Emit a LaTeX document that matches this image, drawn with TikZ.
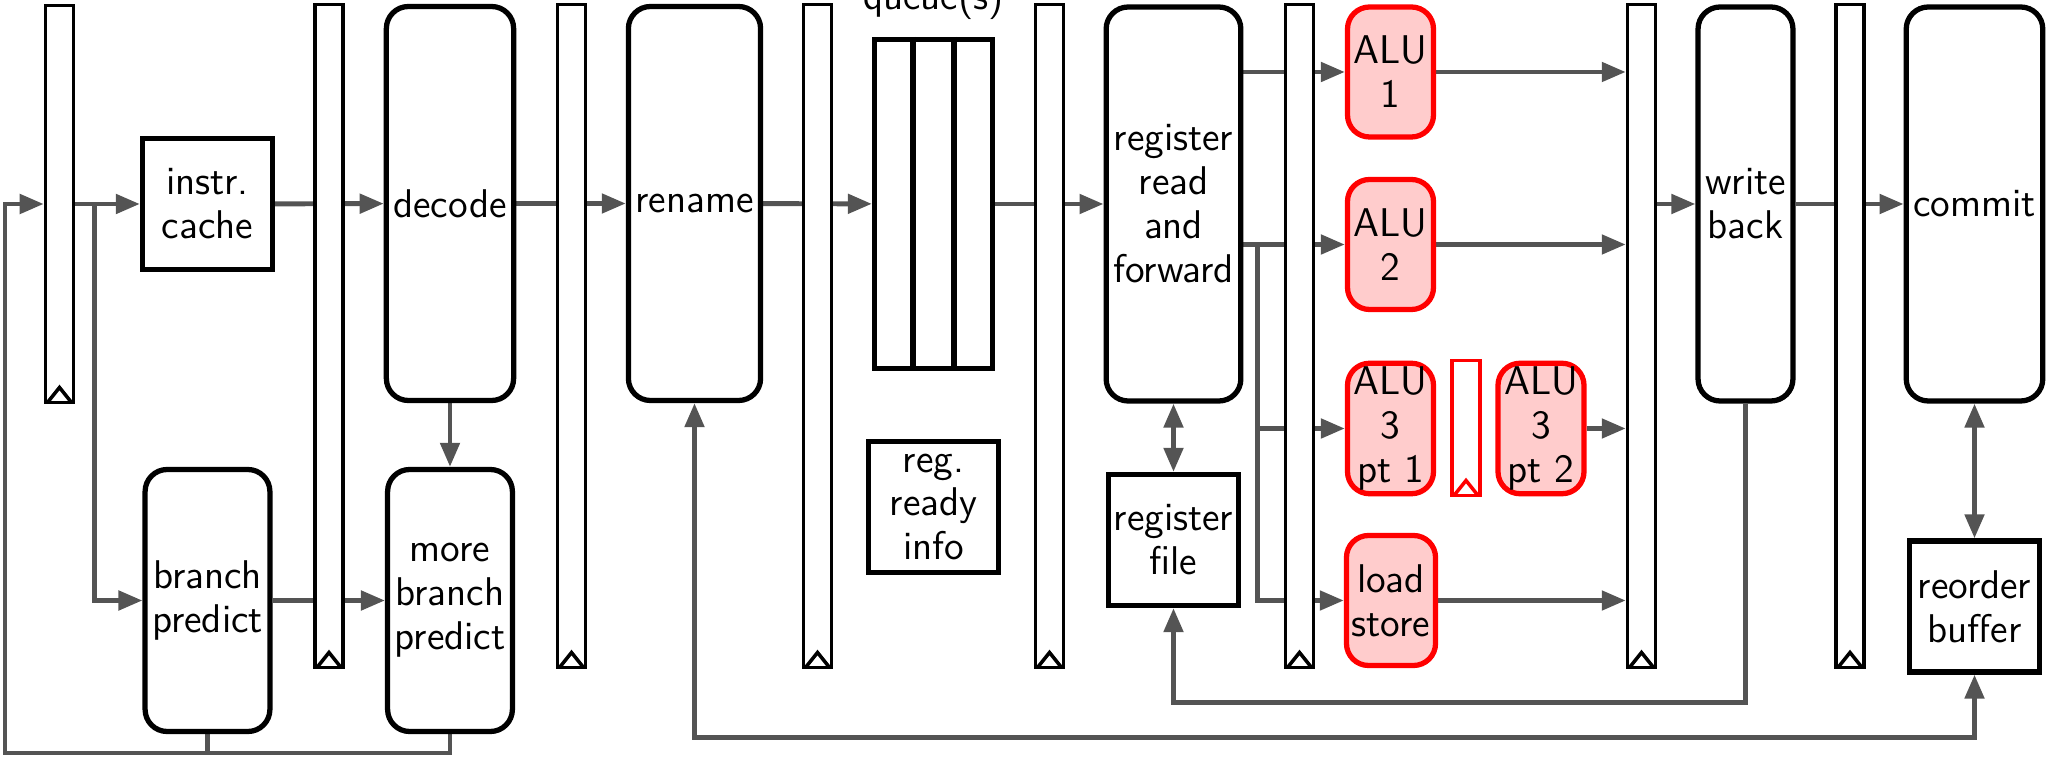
\documentclass[tikz,border=0pt]{standalone}
\usetikzlibrary{arrows.meta,positioning,calc,backgrounds}

\definecolor{wiregray}{gray}{0.33}
\definecolor{alufill}{HTML}{FFCCCC}

\begin{document}
\begin{tikzpicture}[
    font=\sffamily\fontsize{11.4}{12.5}\selectfont,
    stage/.style={rectangle, draw, line width=1.5pt, rounded corners=2.2mm, align=center, inner xsep=2pt, inner ysep=1pt, minimum width=0.9cm, minimum height=3.94cm},
    unit/.style={rectangle, draw, line width=1.5pt, align=center, inner sep=1pt, minimum width=1.3cm, minimum height=1.31cm},
    alu/.style={rectangle, draw=red, fill=alufill, line width=1.5pt, rounded corners=2.2mm, align=center, inner xsep=1.5pt, inner ysep=1pt, minimum width=0.86cm, minimum height=1.3cm},
    latch/.style={rectangle, draw=#1, fill=white, line width=1pt, minimum width=0.28cm, inner sep=0pt,
        path picture={\draw[#1, line width=1pt] ([xshift=-1.2mm]path picture bounding box.south) -- ([yshift=1.5mm]path picture bounding box.south) -- ([xshift=1.2mm]path picture bounding box.south);}},
    latch/.default=black,
    wire/.style={draw=wiregray, line width=1.4pt},
    arrow/.style={wire, -{Triangle[length=2.4mm,width=1.9mm]}},
    biarrow/.style={wire, {Triangle[length=2.4mm,width=1.9mm]}-{Triangle[length=2.4mm,width=1.9mm]}}
]
\useasboundingbox (0,0) rectangle (20.49,-7.57);

% Pipeline registers
\node[latch, minimum height=3.97cm] (reg1) at (0.595,-2.04) {};
\foreach \n/\x in {2/3.29, 3/5.715, 4/8.175, 5/10.495, 6/12.995, 7/16.415, 8/18.50}
    \node[latch, minimum height=6.63cm] (reg\n) at (\x,-3.36) {};

% Front end
\node[unit] (icache) at (2.075,-2.04) {instr.\\cache};
\node[stage, minimum height=2.62cm] (bpred) at (2.075,-6.005) {branch\\predict};
\node[stage] (decode) at (4.50,-2.035) {decode};
\node[stage, minimum height=2.62cm] (mbpred) at (4.50,-6.005) {more\\branch\\predict};
\node[stage] (rename) at (6.945,-2.035) {rename};

% Issue
\node[draw, line width=1.5pt, minimum width=1.18cm, minimum height=3.29cm] (queue) at (9.335,-2.04) {};
\foreach \f in {1,2}
    \draw[line width=1.5pt] ($(queue.north west)!\f/3!(queue.north east)$) -- ($(queue.south west)!\f/3!(queue.south east)$);
\node[anchor=base] (qlabel) at ([yshift=2.7mm]queue.north) {queue(s)};
\node[unit] (ready) at (9.335,-5.07) {reg.\\ready\\info};

% Execute
\node[stage] (regread) at (11.735,-2.04) {register\\read\\and\\forward};
\node[unit] (regfile) at (11.735,-5.40) {register\\file};
\node[alu] (alu1) at (13.905,-0.72) {ALU\\1};
\node[alu] (alu2) at (13.905,-2.445) {ALU\\2};
\node[alu] (alu3a) at (13.905,-4.285) {ALU\\3\\pt 1};
\node[latch=red, minimum height=1.35cm] (reg3x) at (14.66,-4.28) {};
\node[alu] (alu3b) at (15.41,-4.285) {ALU\\3\\pt 2};
\node[alu] (ldst) at (13.91,-6.005) {load\\store};

% Back end
\node[stage] (wb) at (17.455,-2.04) {write\\back};
\node[stage] (commit) at (19.745,-2.04) {commit};
\node[unit] (rob) at (19.745,-6.065) {reorder\\buffer};

% Arrows
\begin{scope}[on background layer]
\coordinate (fb) at (0.05,-7.53);
\draw[arrow] (mbpred.south) |- (fb) |- (reg1.west);
\draw[wire] (bpred.south) -- (bpred.south |- fb);
\draw[arrow] (reg1) -- (icache);
\draw[arrow] ($(reg1.east)+(0.19,0)$) |- (bpred.west);
\draw[arrow] (icache) -- (decode);
\draw[arrow] (bpred) -- (mbpred);
\draw[arrow] (decode) -- (mbpred);
\draw[arrow] (decode) -- (rename);
\draw[arrow] (rename) -- (queue);
\draw[arrow] (queue) -- (regread);
\draw[biarrow] (regread) -- (regfile);
\draw[arrow] (regread.east |- alu1.west) -- (alu1.west);
\draw[arrow] (regread.east |- alu2.west) -- (alu2.west);
\coordinate (fwd) at ($(regread.east |- alu2.west)+(0.14,0)$);
\draw[arrow] (fwd) |- (alu3a.west);
\draw[arrow] (fwd) |- (ldst.west);
\foreach \u in {alu1,alu2,alu3b,ldst}
    \draw[arrow] (\u.east) -- (\u.east -| reg7.west);
\draw[arrow] (reg7.east |- wb.west) -- (wb.west);
\draw[arrow] (wb) -- (commit);
\draw[biarrow] (commit) -- (rob);
\coordinate (wbret) at ([yshift=-0.94cm]regfile.south);
\draw[arrow] (wb.south) |- (wbret) -- (regfile.south);
\coordinate (robret) at ([yshift=-3.34cm]rename.south);
\draw[biarrow] (rename.south) -- (robret) -| (rob.south);
\end{scope}

\end{tikzpicture}
\end{document}
